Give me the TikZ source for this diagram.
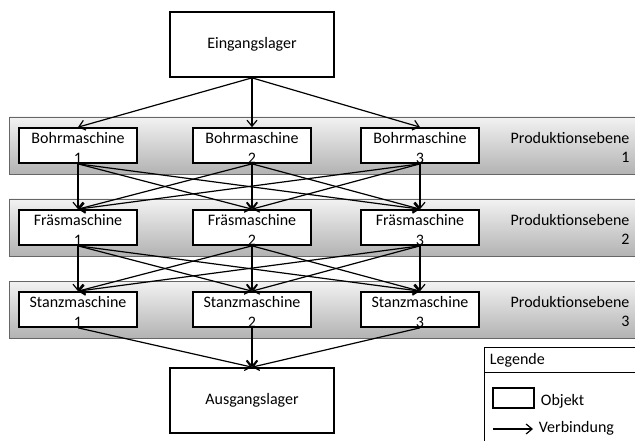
\documentclass[tikz,border=0pt]{standalone}
\usepackage{fontspec}
\setmainfont{Carlito}
\usepackage{tikz}
\usetikzlibrary{arrows.meta}

\tikzset{
  obj/.style={draw, line width=1.7pt, fill=white, minimum width=118pt, minimum height=35pt, inner sep=0pt,
    label={[align=center, inner sep=0pt, yshift=-2.5pt]center:#1}},
  lager/.style={draw, line width=1.7pt, minimum width=164pt, minimum height=65pt},
  ebene/.style={draw=black!60, line width=0.7pt, top color=black!5, bottom color=black!30},
  ebtext/.style={anchor=east, align=right, inner sep=0pt}
}

\begin{document}
\begin{tikzpicture}[x=1pt,y=-1pt,font=\fontsize{16}{19.5}\selectfont,
    >={Straight Barb[length=6pt,width=10pt]}, line width=1.2pt]
    \useasboundingbox (0,0) rectangle (635,441);
    \shadedraw[ebene] (9,117) rectangle (650,174);
    \shadedraw[ebene] (9,199) rectangle (650,256);
    \shadedraw[ebene] (9,281) rectangle (650,338);

    \node[lager] (ein) at (252,44.5) {Eingangslager};
    \node[lager] (aus) at (252,400.5) {Ausgangslager};

    \node[obj={Bohrmaschine\\1}] (b1) at (78,145.5) {};
    \node[obj={Bohrmaschine\\2}] (b2) at (252,145.5) {};
    \node[obj={Bohrmaschine\\3}] (b3) at (420,145.5) {};
    \node[obj={Fräsmaschine\\1}] (f1) at (78,227.5) {};
    \node[obj={Fräsmaschine\\2}] (f2) at (252,227.5) {};
    \node[obj={Fräsmaschine\\3}] (f3) at (420,227.5) {};
    \node[obj={Stanzmaschine\\1}] (s1) at (78,309.5) {};
    \node[obj={Stanzmaschine\\2}] (s2) at (252,309.5) {};
    \node[obj={Stanzmaschine\\3}] (s3) at (420,309.5) {};

    \node[ebtext] (pe1) at (630,147.5) {Produktionsebene\\1};
    \node[ebtext] (pe2) at (630,229.5) {Produktionsebene\\2};
    \node[ebtext] (pe3) at (630,311.5) {Produktionsebene\\3};

    \path[->] (ein.south) edge (b1.north) edge (b2.north) edge (b3.north);
    \path[->] (b1.south) edge (f1.north) edge (f2.north) edge (f3.north);
    \path[->] (b2.south) edge (f1.north) edge (f2.north) edge (f3.north);
    \path[->] (b3.south) edge (f1.north) edge (f2.north) edge (f3.north);
    \path[->] (f1.south) edge (s1.north) edge (s2.north) edge (s3.north);
    \path[->] (f2.south) edge (s1.north) edge (s2.north) edge (s3.north);
    \path[->] (f3.south) edge (s1.north) edge (s2.north) edge (s3.north);
    \path[<-] (aus.north) edge (s1.south) edge (s2.south) edge (s3.south);

    \draw[line width=0.8pt] (484,450) -- (484,347) -- (650,347);
    \draw[line width=0.8pt] (484,372) -- (650,372);
    \node[anchor=west] (leg) at (486,360) {Legende};
    \node[draw, line width=1.7pt, minimum width=41pt, minimum height=20pt, inner sep=0pt] (legobj) at (513.5,398) {};
    \node[anchor=west] (legobjt) at (537,401) {Objekt};
    \coordinate (va) at (493,429);
    \coordinate (vb) at (533,429);
    \draw[->] (va) -- (vb);
    \node[anchor=west] (legver) at (535,428) {Verbindung};
\end{tikzpicture}
\end{document}
